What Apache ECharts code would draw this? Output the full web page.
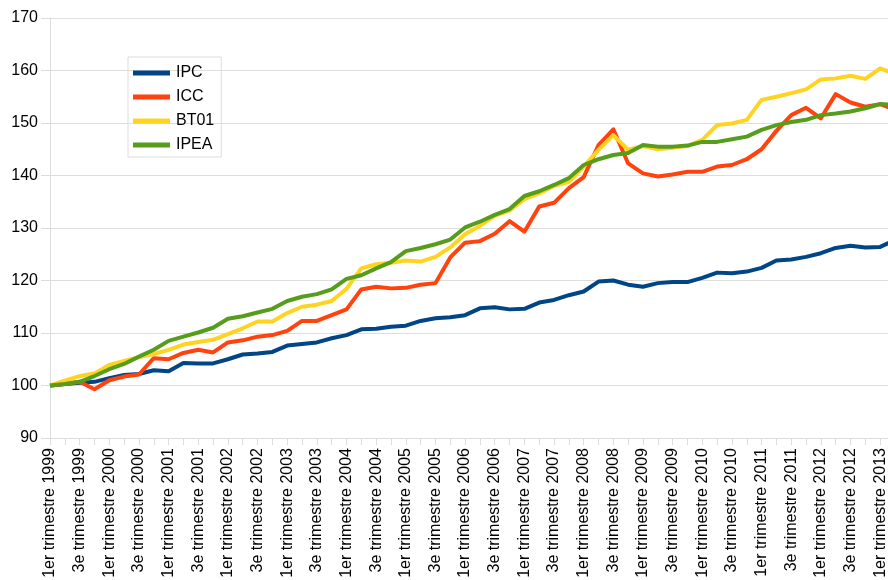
<!DOCTYPE html>
<html>
<head>
	<meta charset="utf-8">
	<title>indices</title>
	<script src="https://cdn.jsdelivr.net/npm/echarts@6/dist/echarts.min.js"></script>
	<style>
		body { margin: 0; background: #fff; }
	</style>
</head>
<body>
	<div id="main" style="height: 580px; width: 888px;"></div>
	<script type="text/javascript">
		var years = [1999, 2000, 2001, 2002, 2003, 2004, 2005, 2006, 2007, 2008, 2009, 2010, 2011, 2012, 2013];
		var quarterNames = ['1er trimestre', '2e trimestre', '3e trimestre', '4e trimestre'];
		var nbPoints = 58;   // 1er trimestre 1999 -> 2e trimestre 2013

		var ipc = [100.0, 100.3, 100.5, 100.7, 101.4, 102.0, 102.2, 102.9, 102.7, 104.3,
			104.2, 104.2, 105.0, 105.9, 106.1, 106.4, 107.6, 107.9, 108.2, 109.0,
			109.6, 110.7, 110.8, 111.2, 111.4, 112.3, 112.8, 113.0, 113.4, 114.7,
			114.9, 114.5, 114.6, 115.8, 116.3, 117.2, 117.9, 119.8, 120.0, 119.2,
			118.8, 119.5, 119.7, 119.7, 120.5, 121.5, 121.4, 121.7, 122.4, 123.8,
			124.0, 124.5, 125.2, 126.2, 126.6, 126.3, 126.4, 127.7];
		var icc = [100.0, 100.3, 100.7, 99.3, 101.0, 101.7, 102.1, 105.2, 105.0, 106.2,
			106.8, 106.3, 108.2, 108.6, 109.3, 109.6, 110.4, 112.3, 112.3, 113.4,
			114.5, 118.3, 118.8, 118.5, 118.6, 119.2, 119.5, 124.4, 127.2, 127.5,
			128.9, 131.3, 129.3, 134.1, 134.8, 137.6, 139.7, 145.8, 148.8, 142.3,
			140.4, 139.8, 140.2, 140.7, 140.7, 141.7, 142.0, 143.1, 145.0, 148.5,
			151.5, 152.9, 150.9, 155.5, 153.9, 153.1, 153.6, 152.5];
		var bt01 = [100.0, 100.9, 101.8, 102.3, 103.9, 104.7, 105.4, 106.0, 106.8, 107.8,
			108.3, 108.7, 109.8, 110.9, 112.2, 112.2, 113.8, 115.0, 115.4, 116.1,
			118.4, 122.3, 123.1, 123.4, 123.8, 123.6, 124.5, 126.3, 128.8, 130.4,
			132.3, 133.3, 135.5, 136.6, 138.0, 138.8, 141.7, 144.9, 147.7, 144.9,
			145.6, 145.0, 145.3, 145.6, 146.8, 149.6, 149.9, 150.6, 154.4, 155.0,
			155.7, 156.4, 158.3, 158.5, 159.0, 158.4, 160.4, 159.3];
		var ipea = [100.0, 100.3, 100.7, 101.8, 103.1, 104.1, 105.5, 106.8, 108.5, 109.3,
			110.1, 111.0, 112.7, 113.2, 113.9, 114.6, 116.1, 116.9, 117.4, 118.3,
			120.3, 121.0, 122.3, 123.5, 125.6, 126.2, 126.9, 127.8, 130.1, 131.2,
			132.5, 133.6, 136.1, 137.0, 138.2, 139.5, 142.0, 143.1, 143.9, 144.3,
			145.8, 145.5, 145.5, 145.7, 146.4, 146.4, 146.9, 147.4, 148.7, 149.6,
			150.2, 150.6, 151.5, 151.8, 152.2, 152.8, 153.6, 153.5];

		var categories = [];
		years.forEach(function (y) {
			quarterNames.forEach(function (q) {
				if (categories.length < nbPoints) categories.push(q + ' ' + y);
			});
		});

		var font = 'Liberation Sans, Arial, sans-serif';
		var gridColor = '#dddddd';

		function serie(name, data, color) {
			return {
				name: name,
				type: 'line',
				data: data,
				symbol: 'none',
				lineStyle: { width: 4, color: color, join: 'round' },
				itemStyle: { color: color }
			};
		}

		var myChart = echarts.init(document.getElementById('main'));
		var option = {
			animation: false,
			backgroundColor: '#ffffff',
			textStyle: { fontFamily: font },
			grid: {
				left: 50,
				top: 18,
				right: -7,
				bottom: 142,
				outerBoundsMode: 'none'
			},
			legend: {
				orient: 'vertical',
				left: 128,
				top: 57,
				padding: [8, 7, 4, 5],
				itemGap: 8,
				itemWidth: 37,
				itemHeight: 5,
				icon: 'rect',
				borderColor: '#dddddd',
				borderWidth: 1,
				itemStyle: { borderWidth: 0 },
				textStyle: { fontSize: 16, color: '#000', fontFamily: font, lineHeight: 16, padding: [0, 0, 0, 1] },
				data: ['IPC', 'ICC', 'BT01', 'IPEA']
			},
			xAxis: {
				type: 'category',
				data: categories,
				boundaryGap: false,
				axisLine: { lineStyle: { color: gridColor } },
				axisTick: { interval: 0, length: 7, lineStyle: { color: gridColor } },
				axisLabel: {
					interval: 1,
					rotate: 90,
					margin: 10,
					fontSize: 16,
					color: '#000',
					fontFamily: font
				},
				splitLine: { show: false }
			},
			yAxis: {
				type: 'value',
				min: 90,
				max: 170,
				interval: 10,
				axisLine: { show: true, lineStyle: { color: gridColor } },
				axisTick: { show: true, length: 9, lineStyle: { color: gridColor } },
				axisLabel: { margin: 12, fontSize: 16, color: '#000', fontFamily: font },
				splitLine: { lineStyle: { color: gridColor } }
			},
			series: [
				serie('IPC', ipc, '#004586'),
				serie('ICC', icc, '#ff420e'),
				serie('BT01', bt01, '#ffd320'),
				serie('IPEA', ipea, '#579d1c')
			]
		};
		myChart.setOption(option);
	</script>
</body>
</html>
